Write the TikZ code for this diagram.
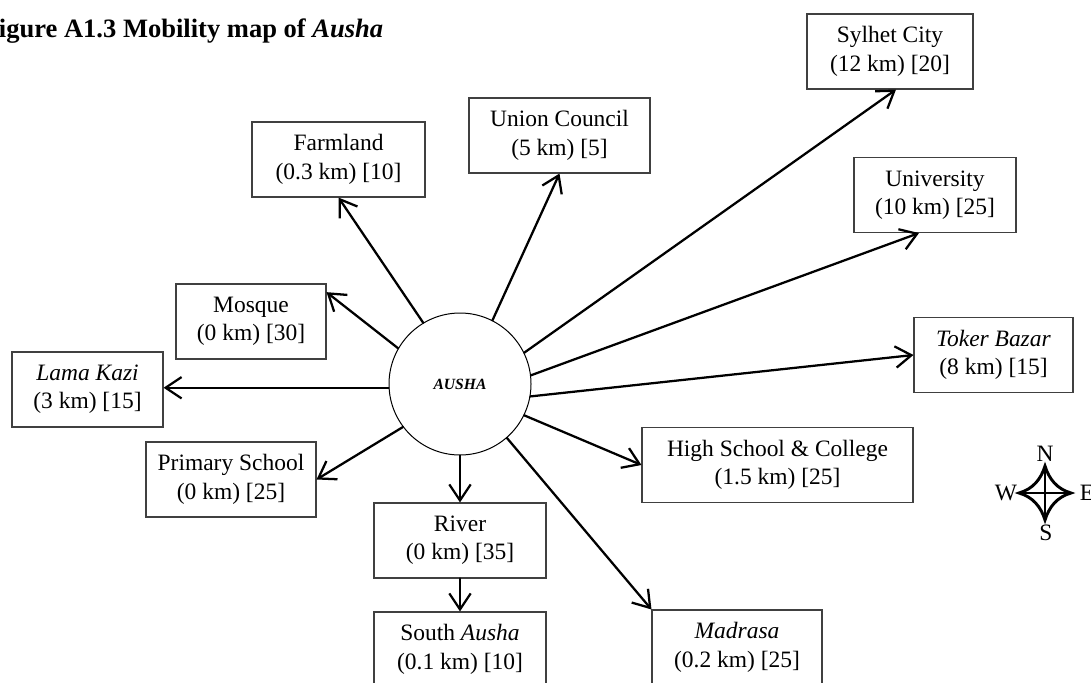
\documentclass[tikz,border=0pt]{standalone}
\usepackage{fontspec}
\setmainfont{Liberation Serif}
\usetikzlibrary{arrows.meta,calc}

\begin{document}
\begin{tikzpicture}[x=0.75pt,y=-0.75pt,
  box/.style={draw=black!75, line width=0.8pt, align=center, inner sep=0pt,
    minimum height=56.25pt, font=\fontsize{17.6}{21.3}\selectfont},
  bw/.style={minimum width=#1*0.75pt},
  link/.style={line width=1.7pt, line cap=round,
    -{Straight Barb[length=12pt,width=16pt,line join=miter]}},
  compass/.style={line width=2.2pt, line join=miter},
  lbl/.style={inner sep=0pt, font=\fontsize{17.6}{21.3}\selectfont},
]
\useasboundingbox (0,0) rectangle (1091,682);
\clip (0,0) rectangle (1091,682);

% title
\node[anchor=base west, inner sep=0pt, font=\fontsize{19.9}{24}\selectfont\bfseries]
  (title) at (-17.5,37) {Figure A1.3 Mobility map of \textit{Ausha}};

% the village
\node[circle, draw, line width=0.75pt, minimum size=106.5pt, inner sep=0pt,
  font=\fontsize{11.7}{14}\selectfont\bfseries\itshape] (c) at (460,384) {AUSHA};

% destinations: (distance) [share]
\node[box, bw=166] (syl)  at (890,51.5)   {Sylhet City\\(12 km) [20]};
\node[box, bw=181] (uc)   at (559.5,135.5) {Union Council\\(5 km) [5]};
\node[box, bw=173] (farm) at (338.5,159.5) {Farmland\\(0.3 km) [10]};
\node[box, bw=162] (uni)  at (935,195)    {University\\(10 km) [25]};
\node[box, bw=150] (mos)  at (251,321.5)  {Mosque\\(0 km) [30]};
\node[box, bw=151] (lama) at (87.5,389.5) {\textit{Lama Kazi}\\(3 km) [15]};
\node[box, bw=159] (tok)  at (993.5,355)  {\textit{Toker Bazar}\\(8 km) [15]};
\node[box, bw=170] (pri)  at (231,479.5)  {Primary School\\(0 km) [25]};
\node[box, bw=271] (hs)   at (777.5,465)  {High School \& College\\(1.5 km) [25]};
\node[box, bw=172] (riv)  at (460,540.5)  {River\\(0 km) [35]};
\node[box, bw=172] (sa)   at (460,649.5)  {South \textit{Ausha}\\(0.1 km) [10]};
\node[box, bw=170] (mad)  at (737,647.5)  {\textit{Madrasa}\\(0.2 km) [25]};

% connectors
\draw[link] (c.121.7) -- (farm.south);
\draw[link] (c.63.8)  -- (uc.south);
\draw[link] (c.26.4)  -- ([xshift=4.5pt]syl.south);
\draw[link] (c.7.1)   -- ([xshift=-12pt]uni.south);
\draw[link] (c.150.7) -- ([yshift=22pt]mos.east);
\draw[link] (c.183)   -- (c.183 -| lama.east);
\draw[link] (c.-10.2) -- (tok.west);
\draw[link] (c.217.9) -- (pri.east);
\draw[link] (c.-26.7) -- (hs.west);
\draw[link] (c.south) -- (riv.north);
\draw[link] (riv.south) -- (sa.north);
\draw[link] (c.-49.9) -- (mad.north west);

% compass rose: four-point star with concave sides and a cross
\coordinate (rn) at (1045,466);
\coordinate (re) at (1071,493);
\coordinate (rs) at (1045,520);
\coordinate (rw) at (1019,493);
\draw[compass] (rn) .. controls (1049,479) and (1057,489) .. (re)
  .. controls (1057,497) and (1049,507) .. (rs)
  .. controls (1041,507) and (1033,497) .. (rw)
  .. controls (1033,489) and (1041,479) .. cycle;
\draw[compass] (rn) -- (rs) (rw) -- (re);
\node[lbl] (cn) at (1045,454) {N};
\node[lbl] (cs) at (1046,533) {S};
\node[lbl] (cw) at (1006,493) {W};
\node[lbl] (ce) at (1087,493) {E};
\end{tikzpicture}
\end{document}
